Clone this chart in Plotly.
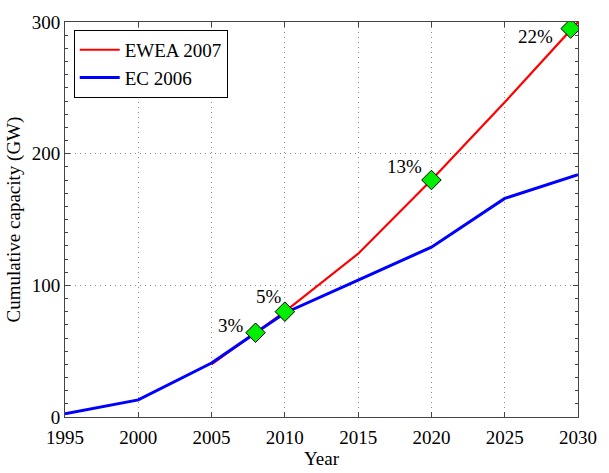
import plotly.graph_objects as go

# Cumulative installed wind capacity scenarios (GW)
ec_years = [1995, 2000, 2005, 2010, 2015, 2020, 2025, 2030]
ec_gw = [2.5, 13, 41, 79, 104, 129, 166, 184]

ewea_years = [2005, 2010, 2015, 2020, 2025, 2030]
ewea_gw = [40, 80, 124, 180, 239, 300]

# Share of EU electricity demand at milestone years
share_years = [2008, 2010, 2020, 2029.5]
share_gw = [64, 80, 180, 295]
share_labels = ["3%", "5%", "13%", "22%"]
label_dx = [-10, -1, -7, -16]
label_dy = [7, 15, 14, -8]

x_ticks = [1995, 2000, 2005, 2010, 2015, 2020, 2025, 2030]
y_ticks = [0, 100, 200, 300]

FONT = "Liberation Serif"
FS = 19

fig = go.Figure()
fig.add_trace(go.Scatter(x=ewea_years, y=ewea_gw, mode="lines", name="EWEA 2007",
                         line=dict(color="#ff0000", width=2.2)))
fig.add_trace(go.Scatter(x=ec_years, y=ec_gw, mode="lines", name="EC 2006",
                         line=dict(color="#0000ff", width=3)))
fig.add_trace(go.Scatter(x=share_years, y=share_gw, mode="markers", showlegend=False,
                         marker=dict(symbol="diamond", size=15, color="#00ee00",
                                     line=dict(color="black", width=1))))

for x, y, t, dx, dy in zip(share_years, share_gw, share_labels, label_dx, label_dy):
    fig.add_annotation(x=x, y=y, text=t, showarrow=False, xanchor="right",
                       xshift=dx, yshift=dy, font=dict(family=FONT, size=FS, color="black"))

axis_common = dict(
    showline=True, linecolor="#444444", linewidth=1, mirror="allticks",
    ticks="inside", ticklen=5, tickcolor="#444444",
    showgrid=True, gridcolor="#888888", griddash="1px,4px", gridwidth=1,
    zeroline=False, tickfont=dict(family=FONT, size=FS, color="black"),
)

fig.update_xaxes(range=[1995, 2030], tickvals=x_ticks, **axis_common, ticklabelstandoff=3,
                 title=dict(text="Year", font=dict(family=FONT, size=FS, color="black"), standoff=0))
fig.update_yaxes(range=[0, 300], tickvals=y_ticks, **axis_common,
                 minor=dict(dtick=10, ticks="inside", ticklen=3, tickcolor="#444444", showgrid=False),
                 title=dict(text="Cumulative capacity (GW)", font=dict(family=FONT, size=FS, color="black"),
                            standoff=6))

fig.update_layout(
    width=609, height=473,
    margin=dict(l=64, r=23, t=14, b=48),
    paper_bgcolor="white", plot_bgcolor="white",
    font=dict(family=FONT, color="black"),
    legend=dict(x=0.017, y=0.98, xanchor="left", yanchor="top",
                bgcolor="white", bordercolor="black", borderwidth=1,
                font=dict(family=FONT, size=FS, color="black"),
                tracegroupgap=0, itemwidth=40),
)

fig.write_html("out.html")
